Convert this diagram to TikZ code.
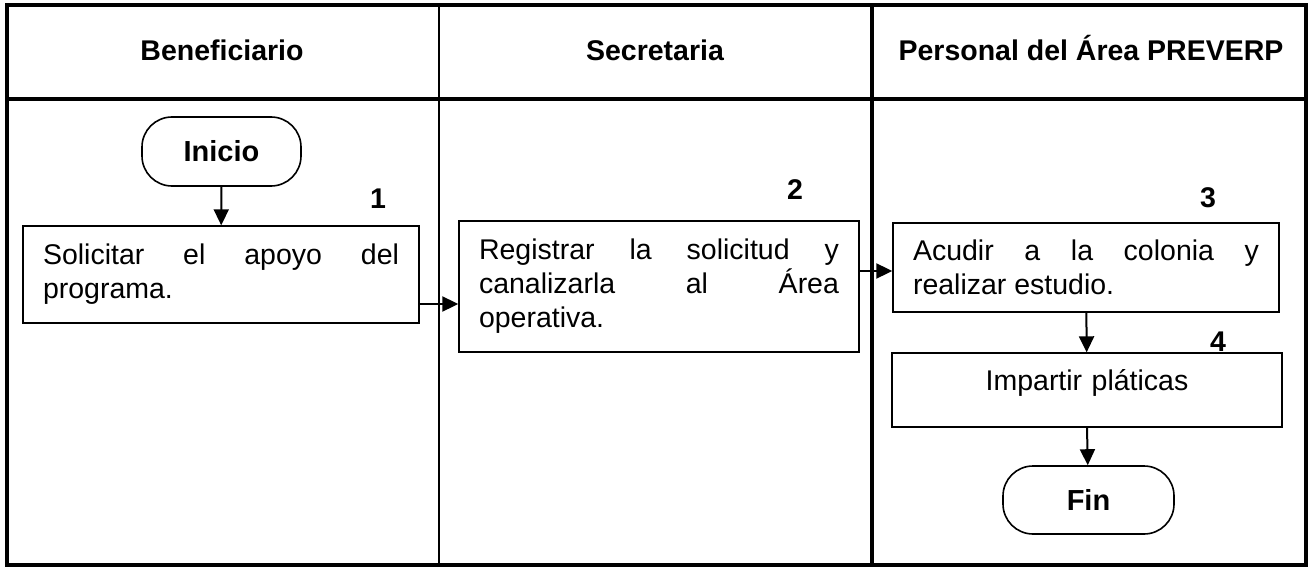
\documentclass[tikz,border=0pt]{standalone}
\usepackage{fontspec}
\setmainfont{Liberation Sans}
\usepackage{tikz}
\usetikzlibrary{arrows.meta}

\begin{document}
\begin{tikzpicture}[x=1pt,y=-1pt]

		\useasboundingbox (0,0) rectangle (1309,567);

		\tikzstyle{titulo}=[font=\fontsize{28.5}{34}\selectfont\bfseries, anchor=base]
		\tikzstyle{paso}=[draw, rectangle, line width=1.4pt, inner xsep=20pt, align=justify, font=\fontsize{28.5}{34}\selectfont]
		\tikzstyle{terminal}=[draw, rectangle, line width=1.6pt, rounded corners=30pt, font=\fontsize{29}{34}\selectfont\bfseries]
		\tikzstyle{numero}=[font=\fontsize{28.5}{34}\selectfont\bfseries]

		% tabla
		\draw[line width=3.5pt] (7,5) rectangle (1306,565);
		\draw[line width=3.5pt] (7,99) -- (1306,99);
		\draw[line width=2.2pt] (439,5) -- (439,565);
		\draw[line width=3.2pt] (872,5) -- (872,565);

		\node[titulo] (hB) at (222,61) {Beneficiario};
		\node[titulo] (hS) at (655,61) {Secretaria};
		\node[titulo] (hP) at (1091,61) {Personal del Área PREVERP};

		\node[terminal, minimum width=159pt, minimum height=69pt] (I) at (221.5,151.5) {Inicio};

		\node[paso, text width=356pt, minimum height=97pt] (S) at (221,274.5)
			{Solicitar el apoyo del\linebreak programa.};
		\node[paso, text width=360pt, minimum height=131pt] (R) at (659,286.5)
			{Registrar la solicitud y\linebreak canalizarla al Área\linebreak operativa.};
		\node[paso, text width=346pt, minimum height=89pt] (A) at (1086,267.5)
			{Acudir a la colonia y\linebreak realizar estudio.};
		\node[paso, align=center, text width=350pt, inner ysep=0pt, text height=37pt, text depth=37pt, anchor=base] (P) at (1087,390)
			{Impartir pláticas};

		\node[terminal, minimum width=171pt, minimum height=68pt] (F) at (1088.5,500) {Fin};

		\node[numero] (n1) at (378,199) {1};
		\node[numero] (n2) at (795,190) {2};
		\node[numero] (n3) at (1208,198) {3};
		\node[numero] (n4) at (1218,342) {4};

		\tikzstyle{flecha}=[-{Triangle[length=16pt,width=15pt]}, line width=2pt]

		\coordinate (sR) at ([yshift=-29.5pt]S.east);
		\coordinate (sA) at ([yshift=15.5pt]R.east);

		\draw[flecha] (I)--(S);
		\draw[flecha] (sR)--(sR -| R.west);
		\draw[flecha] (sA)--(sA -| A.west);
		\draw[flecha] (A)--(P);
		\draw[flecha] (P.south)--(F);

	\end{tikzpicture}
\end{document}
